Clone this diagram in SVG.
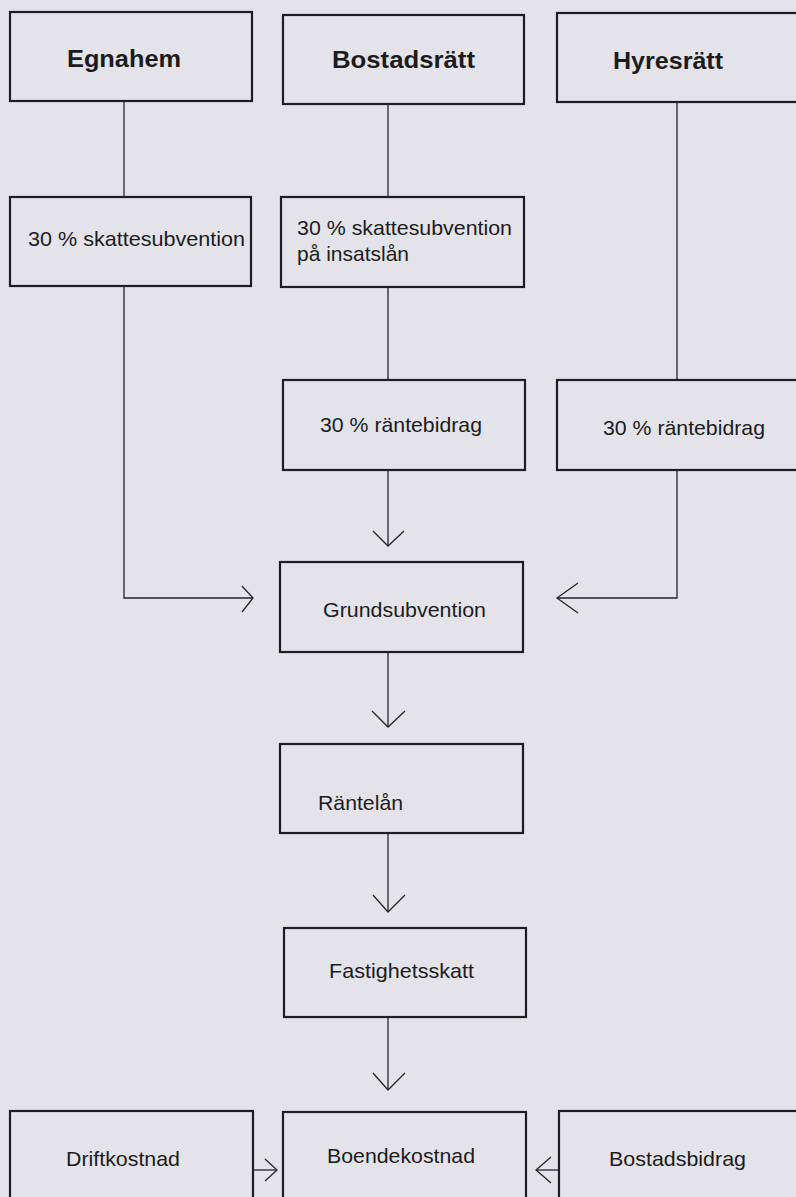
<svg xmlns="http://www.w3.org/2000/svg" width="796" height="1197" viewBox="0 0 796 1197">
<style>
.box{fill:none;stroke:#1e1e1e;stroke-width:2.2}
.ln{fill:none;stroke:#262626;stroke-width:1.3}
.t{font-family:"Liberation Sans",Arial,Helvetica,sans-serif;font-size:21px;fill:#1c1c1c}
.b{font-family:"Liberation Sans",Arial,Helvetica,sans-serif;font-size:24px;font-weight:bold;fill:#1c1c1c}
</style>
<rect x="0" y="0" width="796" height="1197" fill="#e3e3e9"/>
<g id="connectors" class="ln">
<path d="M124 102V197"/>
<path d="M124 286V598H253"/>
<path d="M242 586L253 598L242 612"/>
<path d="M388 104V197"/>
<path d="M388 287V380"/>
<path d="M388 470V546"/>
<path d="M373 531L388 546L404 531"/>
<path d="M677 102V380"/>
<path d="M677 470V598H557"/>
<path d="M578 583L557 598L578 613"/>
<path d="M388 652V727"/>
<path d="M372 711L388 727L405 711"/>
<path d="M388 833V912"/>
<path d="M373 895L388 912L405 895"/>
<path d="M388 1017V1090"/>
<path d="M373 1073L388 1090L405 1073"/>
<path d="M253 1170H277"/>
<path d="M265 1159L277 1170L265 1181"/>
<path d="M559 1170H536"/>
<path d="M551 1157L536 1170L551 1183"/>
</g>
<g id="egnahem"><rect class="box" x="10" y="12" width="242" height="89"/><text class="b" x="67" y="67" textLength="114" lengthAdjust="spacingAndGlyphs">Egnahem</text></g>
<g id="bostadsratt"><rect class="box" x="283" y="15" width="241" height="89"/><text class="b" x="332" y="68" textLength="143" lengthAdjust="spacingAndGlyphs">Bostadsrätt</text></g>
<g id="hyresratt"><rect class="box" x="557" y="13" width="260" height="89"/><text class="b" x="613" y="69" textLength="110" lengthAdjust="spacingAndGlyphs">Hyresrätt</text></g>
<g id="skatt-egnahem"><rect class="box" x="10" y="197" width="241" height="89"/><text class="t" x="28" y="246" textLength="217" lengthAdjust="spacingAndGlyphs">30 % skattesubvention</text></g>
<g id="skatt-bostadsratt"><rect class="box" x="281" y="197" width="243" height="90"/><text class="t" x="297" y="235" textLength="215" lengthAdjust="spacingAndGlyphs">30 % skattesubvention</text><text class="t" x="297" y="261" textLength="112" lengthAdjust="spacingAndGlyphs">på insatslån</text></g>
<g id="ranta-bostadsratt"><rect class="box" x="283" y="380" width="242" height="90"/><text class="t" x="320" y="432" textLength="162" lengthAdjust="spacingAndGlyphs">30 % räntebidrag</text></g>
<g id="ranta-hyresratt"><rect class="box" x="557" y="380" width="260" height="90"/><text class="t" x="603" y="435" textLength="162" lengthAdjust="spacingAndGlyphs">30 % räntebidrag</text></g>
<g id="grundsubvention"><rect class="box" x="280" y="562" width="243" height="90"/><text class="t" x="323" y="617" textLength="163" lengthAdjust="spacingAndGlyphs">Grundsubvention</text></g>
<g id="rantelan"><rect class="box" x="280" y="744" width="243" height="89"/><text class="t" x="318" y="810" textLength="85" lengthAdjust="spacingAndGlyphs">Räntelån</text></g>
<g id="fastighetsskatt"><rect class="box" x="284" y="928" width="242" height="89"/><text class="t" x="329" y="978" textLength="145" lengthAdjust="spacingAndGlyphs">Fastighetsskatt</text></g>
<g id="driftkostnad"><rect class="box" x="10" y="1111" width="243" height="110"/><text class="t" x="66" y="1166" textLength="114" lengthAdjust="spacingAndGlyphs">Driftkostnad</text></g>
<g id="boendekostnad"><rect class="box" x="283" y="1112" width="243" height="110"/><text class="t" x="327" y="1163" textLength="148" lengthAdjust="spacingAndGlyphs">Boendekostnad</text></g>
<g id="bostadsbidrag"><rect class="box" x="559" y="1111" width="260" height="110"/><text class="t" x="609" y="1166" textLength="137" lengthAdjust="spacingAndGlyphs">Bostadsbidrag</text></g>
</svg>
